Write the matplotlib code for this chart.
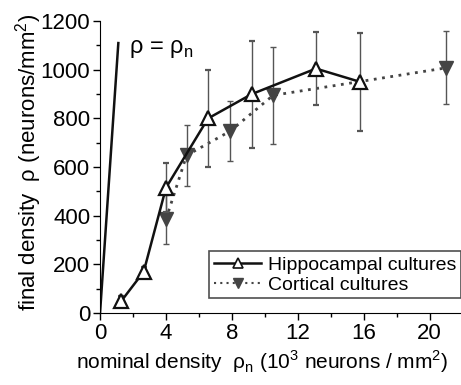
import numpy as np
import matplotlib.pyplot as plt
from matplotlib.ticker import MultipleLocator
from matplotlib.lines import Line2D

plt.rcParams['font.family'] = ['Liberation Sans', 'DejaVu Sans']
plt.rcParams['mathtext.fontset'] = 'custom'
plt.rcParams['mathtext.rm'] = 'Liberation Sans'

# hippocampal cultures
hip_x = [1.3, 2.65, 4.0, 6.55, 9.2, 13.1, 15.8]
hip_y = [50, 170, 515, 800, 900, 1005, 950]
hip_err = [20, 20, 100, 200, 220, 150, 200]

# cortical cultures
cor_x = [4.0, 5.25, 7.9, 10.5, 21.0]
cor_y = [385, 648, 748, 895, 1008]
cor_err = [100, 125, 125, 200, 150]

# rho = rho_n reference line
ref_x = [0, 1.11]
ref_y = [0, 1110]

fig = plt.figure(figsize=(4.61, 3.85), dpi=100)
ax = fig.add_axes([0.217, 0.187, 0.783, 0.758])

ax.plot(ref_x, ref_y, color='#111111', lw=1.8)
ax.text(1.75, 1085, 'ρ = ρ$_\\mathregular{n}$', fontsize=17, va='center')

ax.errorbar(cor_x, cor_y, yerr=cor_err, color='#444444', ls=(0, (1, 2)), lw=2,
            marker='v', ms=10, mfc='#444444', mec='#444444',
            ecolor='#555555', elinewidth=1, capsize=2, capthick=1, zorder=2)
ax.errorbar(hip_x, hip_y, yerr=hip_err, color='#111111', ls='-', lw=1.8,
            marker='^', ms=9.5, mfc='white', mec='#111111', mew=1.6,
            ecolor='#555555', elinewidth=1, capsize=2, capthick=1, zorder=3)

ax.set_xlim(0, 21.9)
ax.set_ylim(0, 1200)
ax.xaxis.set_major_locator(MultipleLocator(4))
ax.xaxis.set_minor_locator(MultipleLocator(2))
ax.yaxis.set_major_locator(MultipleLocator(200))
ax.yaxis.set_minor_locator(MultipleLocator(100))
ax.spines['top'].set_visible(False)
ax.spines['right'].set_visible(False)
ax.tick_params(which='both', direction='out', labelsize=16, width=1, pad=2)
ax.tick_params(which='major', length=5)
ax.tick_params(which='minor', length=3)

ax.set_xlabel('nominal density  ρ$_\\mathregular{n}$ (10$^\\mathregular{3}$ neurons / mm$^\\mathregular{2}$)',
              fontsize=15)
ax.xaxis.set_label_coords(0.45, -0.12)
ax.set_ylabel('final density  ρ (neurons/mm$^\\mathregular{2}$)', fontsize=16)
ax.yaxis.set_label_coords(-0.155, 0.515)

handles = [
    Line2D([], [], color='#111111', lw=1.8, marker='^', ms=7, mfc='white', mec='#111111', mew=1.2),
    Line2D([], [], color='#444444', lw=1.5, ls=(0, (1, 2)), marker='v', ms=7, mfc='#444444', mec='#444444'),
]
leg = ax.legend(handles, ['Hippocampal cultures', 'Cortical cultures'], loc='lower right',
                bbox_to_anchor=(1.0, 0.05), fontsize=14, frameon=True, fancybox=False,
                edgecolor='#222222', handlelength=2.4, handletextpad=0.35, borderpad=0.25,
                labelspacing=0.12, borderaxespad=0)
leg.get_frame().set_linewidth(1.2)

fig.savefig('out.png', dpi=100)
